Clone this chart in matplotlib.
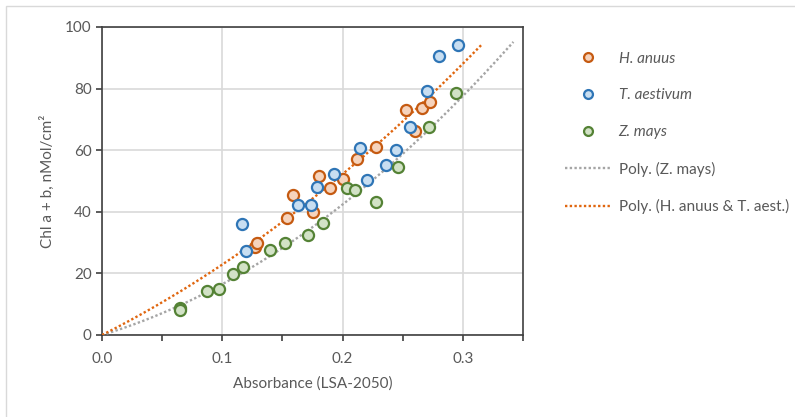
import numpy as np
import matplotlib
matplotlib.use("Agg")
from matplotlib import pyplot as plt
from matplotlib.patches import Rectangle
from matplotlib.ticker import MultipleLocator

plt.rcParams['font.family'] = ['Lato', 'DejaVu Sans']

# absorbance (x) and chlorophyll a+b (y) per species
h_x = [0.127, 0.129, 0.1535, 0.1585, 0.1757, 0.180, 0.1895, 0.2006, 0.212,
       0.2278, 0.2527, 0.260, 0.266, 0.273]
h_y = [28.7, 30.0, 38.0, 45.3, 40.0, 51.6, 47.8, 50.7, 57.3,
       60.9, 73.0, 66.1, 73.7, 75.6]

t_x = [0.1166, 0.1194, 0.1627, 0.174, 0.179, 0.1926, 0.2145, 0.220, 0.236,
       0.2444, 0.2558, 0.270, 0.2799, 0.296]
t_y = [36.1, 27.4, 42.1, 42.1, 48.1, 52.3, 60.6, 50.4, 55.2,
       60.1, 67.5, 79.1, 90.5, 94.3]

z_x = [0.0648, 0.0652, 0.087, 0.097, 0.1086, 0.117, 0.140, 0.152, 0.171,
       0.184, 0.2035, 0.2106, 0.228, 0.246, 0.272, 0.294]
z_y = [8.9, 8.2, 14.4, 15.0, 19.8, 22.2, 27.6, 30.0, 32.6,
       36.5, 47.7, 47.1, 43.1, 54.6, 67.4, 78.5]

# trendline extents (forecast to these x values)
z_trend_end = 0.342
ht_trend_end = 0.3156

orange = '#C55A11'
blue = '#2E75B6'
green = '#548235'
grey = '#595959'


def fit_through_origin(x, y):
    # y = a*x + b*x^2, intercept fixed at 0
    x = np.asarray(x)
    A = np.column_stack([x, x ** 2])
    coef, *_ = np.linalg.lstsq(A, np.asarray(y), rcond=None)
    return coef


fig = plt.figure(figsize=(7.95, 4.17), dpi=100)
fig.patches.append(Rectangle((6 / 795, -0.5), 2, 1.5 - 6 / 417,
                             transform=fig.transFigure, fill=False,
                             edgecolor='#D9D9D9', linewidth=1))
ax = fig.add_axes([102 / 795, 1 - 335 / 417, 421 / 795, 308 / 417])

mk = dict(marker='o', linestyle='none', markersize=8, markeredgewidth=1.6)
ax.plot(h_x, h_y, color=orange, markerfacecolor='#F6D3BC',
        label='H. anuus', zorder=4, **mk)
ax.plot(t_x, t_y, color=blue, markerfacecolor='#C8DEF1',
        label='T. aestivum', zorder=4, **mk)
ax.plot(z_x, z_y, color=green, markerfacecolor='#D2E2C6',
        label='Z. mays', zorder=4, **mk)

cz = fit_through_origin(z_x, z_y)
xz = np.linspace(0, z_trend_end, 200)
ax.plot(xz, cz[0] * xz + cz[1] * xz ** 2, color='#A5A5A5', linestyle=(0, (1, 1)),
        linewidth=1.7, label='Poly. (Z. mays)', zorder=3)

cht = fit_through_origin(h_x + t_x, h_y + t_y)
xh = np.linspace(0, ht_trend_end, 200)
ax.plot(xh, cht[0] * xh + cht[1] * xh ** 2, color='#E0660F', linestyle=(0, (1, 1)),
        linewidth=1.7, label='Poly. (H. anuus & T. aest.)', zorder=3)

ax.set_xlim(0, 0.35)
ax.set_ylim(0, 100)
ax.xaxis.set_major_locator(MultipleLocator(0.1))
ax.xaxis.set_minor_locator(MultipleLocator(0.05))
ax.yaxis.set_major_locator(MultipleLocator(20))
ax.xaxis.set_major_formatter(matplotlib.ticker.FormatStrFormatter('%.1f'))
ax.grid(True, which='major', color='#D9D9D9', linewidth=1.2)
ax.set_axisbelow(True)
for s in ax.spines.values():
    s.set_color('#404040')
    s.set_linewidth(1.2)
ax.tick_params(which='both', direction='out', length=4, width=1.2,
               color='#404040', labelcolor=grey, labelsize=11)
ax.tick_params(axis='y', which='both', right=False)
ax.tick_params(axis='x', pad=8)
ax.set_xlabel('Absorbance (LSA-2050)', color=grey, fontsize=11, labelpad=8)
ax.set_ylabel('Chl a + b, nMol/cm²', color=grey, fontsize=11, labelpad=7)

leg = ax.legend(loc='upper left', bbox_to_anchor=(1.10, 0.92), frameon=False,
                fontsize=11, labelcolor=grey, handlelength=3.0, markerscale=0.8,
                labelspacing=1.48, handletextpad=0.5, borderaxespad=0,
                borderpad=0)
for i, t in enumerate(leg.get_texts()):
    if i < 3:
        t.set_fontstyle('italic')

fig.savefig('out.png', dpi=100)
